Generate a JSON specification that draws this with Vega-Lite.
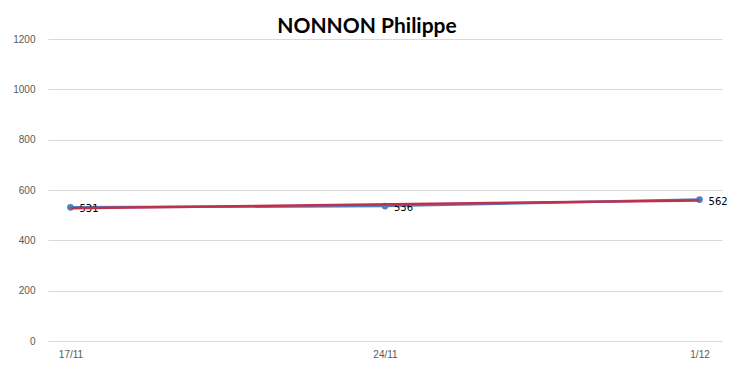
{
  "$schema": "https://vega.github.io/schema/vega-lite/v6.json",
  "width": 674,
  "height": 302,
  "autosize": {"type": "none"},
  "padding": {"left": 48, "top": 39, "right": 14, "bottom": 26},
  "background": "white",
  "title": {
    "text": "NONNON Philippe",
    "font": "Lato",
    "fontSize": 21,
    "fontWeight": "bold",
    "color": "#000000",
    "anchor": "middle",
    "dx": -18,
    "dy": 9,
    "offset": 6
  },
  "data": {
    "values": [
      {"date": "2012-11-17T00:00:00", "v": 531},
      {"date": "2012-11-24T00:00:00", "v": 536},
      {"date": "2012-12-01T00:00:00", "v": 562}
    ]
  },
  "encoding": {
    "x": {
      "field": "date",
      "type": "temporal",
      "scale": {"domain": [{"year": 2012, "month": 11, "date": 16, "hours": 12}, {"year": 2012, "month": 12, "date": 1, "hours": 12}]},
      "axis": {
        "title": null,
        "values": [{"year": 2012, "month": 11, "date": 17}, {"year": 2012, "month": 11, "date": 24}, {"year": 2012, "month": 12, "date": 1}],
        "format": "%-d/%m",
        "grid": false,
        "ticks": false,
        "domainColor": "#d9d9d9",
        "labelColor": "#595959",
        "labelFont": "Liberation Sans",
        "labelFontSize": 10,
        "labelPadding": 8
      }
    },
    "y": {
      "field": "v",
      "type": "quantitative",
      "scale": {"domain": [0, 1200]},
      "axis": {
        "title": null,
        "values": [0, 200, 400, 600, 800, 1000, 1200],
        "format": "d",
        "domain": false,
        "ticks": false,
        "gridColor": "#d9d9d9",
        "labelColor": "#595959",
        "labelFont": "Liberation Sans",
        "labelFontSize": 10,
        "labelPadding": 13
      }
    }
  },
  "layer": [
    {
      "mark": {"type": "line", "color": "#4f81bd", "strokeWidth": 2.5, "point": {"filled": true, "color": "#4f81bd", "size": 45}}
    },
    {
      "mark": {"type": "text", "align": "left", "dx": 9, "dy": 2, "font": "DejaVu Sans", "fontSize": 10, "color": "#000000"},
      "encoding": {"text": {"field": "v", "type": "quantitative"}}
    },
    {
      "transform": [{"regression": "v", "on": "date", "method": "linear"}],
      "mark": {"type": "line", "color": "#c0304d", "strokeWidth": 2.5}
    }
  ],
  "config": {"view": {"stroke": null}}
}
